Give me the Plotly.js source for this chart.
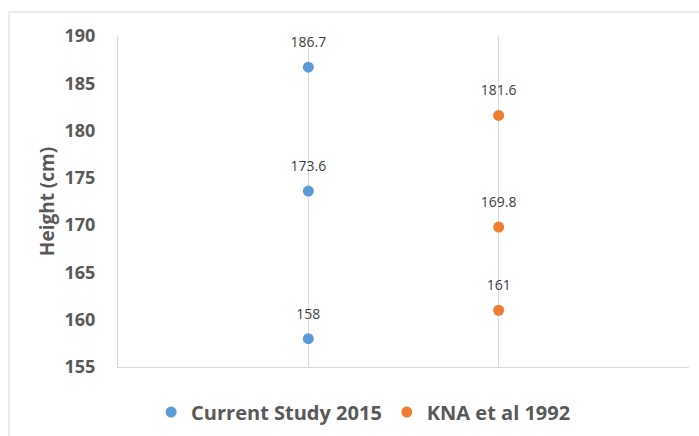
<!DOCTYPE html>
<html>
<head>
<meta charset="utf-8">
<script src="https://cdn.plot.ly/plotly-3.0.1.min.js"></script>
<style>html,body{margin:0;padding:0;background:#fff;}#chart{width:699px;height:436px;}</style>
</head>
<body>
<div id="chart"></div>
<script>
const seriesNames = ["Current Study 2015", "KNA et al 1992"];
const seriesX = [1, 2];
const currentStudy = [186.7, 173.6, 158];
const kna1992 = [181.6, 169.8, 161];
const yTicks = [155, 160, 165, 170, 175, 180, 185, 190];
const colors = ["#5B9BD5", "#ED7D31"];
const allSeries = [currentStudy, kna1992];

const FONT = "'Open Sans', sans-serif";
const traces = [];
allSeries.forEach((vals, i) => {
  const xs = vals.map(() => seriesX[i]);
  traces.push({
    type: "scatter", mode: "markers", name: seriesNames[i],
    x: xs, y: vals,
    marker: {color: colors[i], size: 11},
    hoverinfo: "y"
  });
  traces.push({
    type: "scatter", mode: "markers+text", showlegend: false,
    x: xs, y: vals,
    text: vals.map(v => String(v)),
    textposition: "top center",
    textfont: {family: FONT, size: 14, color: "#404040"},
    marker: {size: 25, opacity: 0, color: colors[i]},
    cliponaxis: false,
    hoverinfo: "skip"
  });
});

const layout = {
  width: 699, height: 436,
  margin: {l: 118, r: 10, t: 36, b: 69, autoexpand: false},
  paper_bgcolor: "#fff", plot_bgcolor: "#fff",
  font: {family: FONT, color: "#595959"},
  xaxis: {
    range: [0, 3], dtick: 1, tick0: 0,
    showgrid: true, gridcolor: "#d9d9d9", gridwidth: 1,
    showticklabels: false, ticks: "", zeroline: false,
    showline: true, linecolor: "#d9d9d9", linewidth: 1, fixedrange: true
  },
  yaxis: {
    range: [155, 190], tickvals: yTicks, ticktext: yTicks.map(String),
    showgrid: false, zeroline: false,
    showline: true, linecolor: "#d9d9d9", linewidth: 1,
    ticks: "", ticklen: 0, ticklabelstandoff: 18,
    tickfont: {family: FONT, size: 18, color: "#595959", weight: "bold"},
    title: {text: "Height (cm)", font: {family: FONT, size: 19, color: "#595959", weight: "bold"}, standoff: 4},
    automargin: false,
    fixedrange: true
  },
  showlegend: true,
  legend: {
    orientation: "h", x: 0.058, xanchor: "left", y: -0.136, yanchor: "middle",
    font: {family: FONT, size: 20, color: "#595959", weight: "bold"},
    itemwidth: 30, tracegroupgap: 0
  },
  shapes: [{
    type: "rect", xref: "paper", yref: "paper",
    x0: -0.1909, x1: 1.2, y0: -0.4, y1: 1.0725,
    line: {color: "#d9d9d9", width: 1}, fillcolor: "rgba(0,0,0,0)", layer: "below"
  }]
};

Plotly.newPlot("chart", traces, layout, {displayModeBar: false, staticPlot: true});
</script>
</body>
</html>
